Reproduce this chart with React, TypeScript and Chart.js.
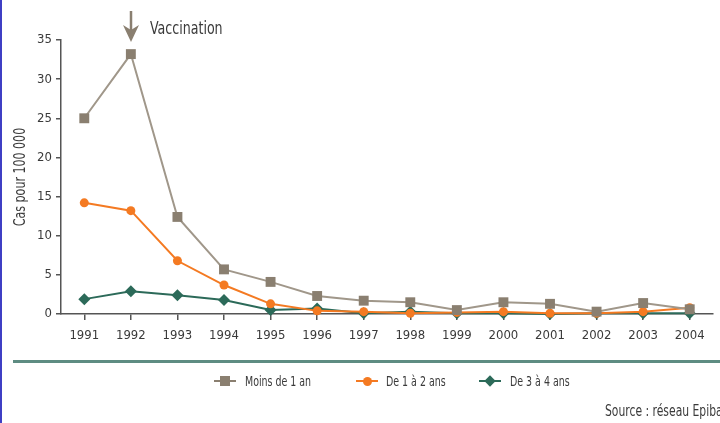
import React, { useEffect, useRef } from 'react';
import { Chart, registerables } from 'chart.js';

Chart.register(...registerables);

const years = ['1991', '1992', '1993', '1994', '1995', '1996', '1997', '1998', '1999', '2000', '2001', '2002', '2003', '2004'];
const moinsUnAn = [25.0, 33.2, 12.4, 5.7, 4.1, 2.3, 1.7, 1.5, 0.5, 1.5, 1.3, 0.3, 1.4, 0.6];
const unADeuxAns = [14.2, 13.2, 6.8, 3.7, 1.3, 0.4, 0.3, 0.1, 0.2, 0.3, 0.1, 0.1, 0.3, 0.8];
const troisAQuatreAns = [1.9, 2.9, 2.4, 1.8, 0.5, 0.7, 0.1, 0.3, 0.1, 0.1, 0.0, 0.1, 0.1, 0.1];
const seriesNames = ['Moins de 1 an', 'De 1 à 2 ans', 'De 3 à 4 ans'];
const vaccinationYear = '1992';
const yMax = 35;
const yStep = 5;

const FONT = "'Liberation Sans Narrow', 'DejaVu Sans Condensed', 'Arial Narrow', sans-serif";
const BROWN = '#8a7f70';
const BROWN_LINE = '#a0978a';
const ORANGE = '#f47a22';
const TEAL = '#2c6a59';
const AXIS = '#555555';
const TEXT = '#3a3a3a';

const arrowPlugin = {
  id: 'vaccinationArrow',
  afterDraw(chart: any) {
    const xs = chart.scales.x;
    const idx = years.indexOf(vaccinationYear);
    const x = Math.round(xs.getPixelForValue(idx));
    const ctx = chart.ctx;
    ctx.save();
    ctx.strokeStyle = BROWN;
    ctx.fillStyle = BROWN;
    ctx.lineWidth = 2.5;
    ctx.beginPath();
    ctx.moveTo(x, 11);
    ctx.lineTo(x, 32);
    ctx.stroke();
    ctx.beginPath();
    ctx.moveTo(x - 8, 25);
    ctx.lineTo(x, 30);
    ctx.lineTo(x + 8, 25);
    ctx.lineTo(x, 42);
    ctx.closePath();
    ctx.fill();
    ctx.restore();
  },
};

function LegendMarker({ color, lineColor, shape }: { color: string; lineColor: string; shape: string }) {
  const markerStyle: React.CSSProperties = {
    position: 'absolute',
    left: '50%',
    top: '50%',
    background: color,
  };
  if (shape === 'rect') {
    Object.assign(markerStyle, { width: 10, height: 10, marginLeft: -5, marginTop: -5 });
  } else if (shape === 'circle') {
    Object.assign(markerStyle, { width: 9, height: 9, marginLeft: -4.5, marginTop: -4.5, borderRadius: '50%' });
  } else {
    Object.assign(markerStyle, { width: 8, height: 8, marginLeft: -4, marginTop: -4, transform: 'rotate(45deg)' });
  }
  return (
    <div style={{ position: 'relative', width: 22, height: 12, display: 'inline-block', verticalAlign: 'middle', flex: 'none' }}>
      <div style={{ position: 'absolute', left: 0, right: 0, top: 5, height: 2, background: lineColor }} />
      <div style={markerStyle} />
    </div>
  );
}

export default function App() {
  const canvasRef = useRef<HTMLCanvasElement | null>(null);

  useEffect(() => {
    if (!canvasRef.current) return;
    const ticks: number[] = [];
    for (let v = 0; v <= yMax; v += yStep) ticks.push(v);
    const chart = new Chart(canvasRef.current, {
      type: 'line',
      data: {
        labels: years,
        datasets: [
          {
            label: seriesNames[0],
            data: moinsUnAn,
            borderColor: BROWN_LINE,
            backgroundColor: BROWN,
            borderWidth: 2,
            pointStyle: 'rect',
            pointRadius: 7,
            pointHoverRadius: 7,
            pointBorderWidth: 0,
            pointBackgroundColor: BROWN,
            tension: 0,
            clip: false,
          },
          {
            label: seriesNames[1],
            data: unADeuxAns,
            borderColor: ORANGE,
            backgroundColor: ORANGE,
            borderWidth: 2,
            pointStyle: 'circle',
            pointRadius: 4.5,
            pointHoverRadius: 4.5,
            pointBorderWidth: 0,
            pointBackgroundColor: ORANGE,
            tension: 0,
            clip: false,
          },
          {
            label: seriesNames[2],
            data: troisAQuatreAns,
            borderColor: TEAL,
            backgroundColor: TEAL,
            borderWidth: 2,
            pointStyle: 'rectRot',
            pointRadius: 6,
            pointHoverRadius: 6,
            pointBorderWidth: 0,
            pointBackgroundColor: TEAL,
            tension: 0,
            clip: false,
          },
        ],
      },
      options: {
        animation: false,
        responsive: false,
        devicePixelRatio: 1,
        layout: { padding: { top: 40, right: 0, left: 0, bottom: 0 } },
        plugins: {
          legend: { display: false },
          tooltip: { enabled: false },
          title: { display: false },
        },
        scales: {
          x: {
            offset: true,
            afterFit: (s: any) => { s.height = 109; },
            grid: { display: true, drawOnChartArea: false, drawTicks: true, tickLength: 6, color: AXIS, lineWidth: 1.5, offset: false },
            border: { display: true, color: AXIS, width: 1.5 },
            ticks: { color: TEXT, font: { family: FONT, size: 13 }, padding: 8, maxRotation: 0, autoSkip: false },
          },
          y: {
            min: 0,
            max: yMax,
            afterFit: (s: any) => { s.width = 61; },
            afterBuildTicks: (s: any) => { s.ticks = ticks.map((v) => ({ value: v })); },
            grid: { display: true, drawOnChartArea: false, drawTicks: true, tickLength: 5, color: AXIS, lineWidth: 1.5 },
            border: { display: true, color: AXIS, width: 1.5 },
            ticks: { color: TEXT, font: { family: FONT, size: 13 }, padding: 4, stepSize: yStep },
          },
        },
      },
      plugins: [arrowPlugin],
    });
    return () => chart.destroy();
  }, []);

  const textBase: React.CSSProperties = { position: 'absolute', fontFamily: FONT, color: TEXT, whiteSpace: 'nowrap', lineHeight: 1 };
  const narrow = (sx: number): React.CSSProperties => ({ display: 'inline-block', transform: `scaleX(${sx})`, transformOrigin: 'left center' });

  return (
    <div style={{ position: 'fixed', left: 0, top: 0, width: 720, height: 423, background: '#ffffff', overflow: 'hidden' }}>
      <canvas ref={canvasRef} width={720} height={423} style={{ position: 'absolute', left: 0, top: 0, width: 720, height: 423 }} />
      <div style={{ position: 'absolute', left: 0, top: 0, width: 2, height: 423, background: '#3f3fc4' }} />
      <div style={{ ...textBase, left: 150, top: 19, fontSize: 18 }}>
        <span style={narrow(0.78)}>Vaccination</span>
      </div>
      <div style={{ ...textBase, left: 20, top: 177, fontSize: 15, transform: 'translate(-50%, -50%) rotate(-90deg) scaleX(0.82)' }}>Cas pour 100 000</div>
      <div style={{ position: 'absolute', left: 13, right: 0, top: 360, height: 3, background: '#5e8c82' }} />
      <div style={{ ...textBase, left: 214, top: 374, fontSize: 14, display: 'flex', alignItems: 'center' }}>
        <LegendMarker color={BROWN} lineColor={BROWN} shape="rect" />
        <span style={{ ...narrow(0.75), marginLeft: 9 }}>{seriesNames[0]}</span>
      </div>
      <div style={{ ...textBase, left: 356, top: 374, fontSize: 14, display: 'flex', alignItems: 'center' }}>
        <LegendMarker color={ORANGE} lineColor={ORANGE} shape="circle" />
        <span style={{ ...narrow(0.75), marginLeft: 8 }}>{seriesNames[1]}</span>
      </div>
      <div style={{ ...textBase, left: 479, top: 374, fontSize: 14, display: 'flex', alignItems: 'center' }}>
        <LegendMarker color={TEAL} lineColor={TEAL} shape="diamond" />
        <span style={{ ...narrow(0.75), marginLeft: 9 }}>{seriesNames[2]}</span>
      </div>
      <div style={{ ...textBase, left: 605, top: 404, fontSize: 15 }}>
        <span style={narrow(0.8)}>Source : réseau Epibac</span>
      </div>
    </div>
  );
}
